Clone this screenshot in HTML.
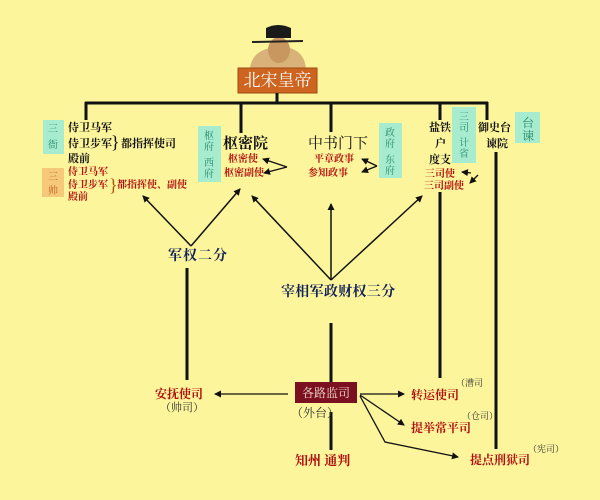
<!DOCTYPE html>
<html><head><meta charset="utf-8"><style>
html,body{margin:0;padding:0;background:#fcf59c;}
svg{display:block}
text{font-family:"Liberation Serif","Noto Serif CJK SC","Noto Sans CJK SC",serif;font-weight:bold}
.k{fill:#111}
.r{fill:#b01010}
.b{fill:#12225a}
.g{fill:#2a8a6a;font-weight:normal}
</style></head><body>
<svg width="600" height="500" viewBox="0 0 600 500" xmlns="http://www.w3.org/2000/svg">
<defs>
<marker id="a" markerWidth="8" markerHeight="8" refX="6" refY="4" orient="auto" markerUnits="userSpaceOnUse">
<path d="M0,0.5 L7,4 L0,7.5 Z" fill="#111"/></marker>
</defs>
<rect width="600" height="500" fill="#fcf59c"/>
<!-- emperor figure -->
<path d="M250,68 Q252,52 270,48 L290,48 Q304,52 306,68 Z" fill="#d9b27a"/>
<ellipse cx="279" cy="50" rx="11" ry="13" fill="#c89760"/>
<path d="M266,38 L266,28 Q278,22 291,28 L291,38 Z" fill="#1a1a1a"/>
<line x1="252" y1="42" x2="303" y2="41" stroke="#222" stroke-width="2"/>
<!-- emperor box -->
<rect x="238" y="68" width="79" height="25" fill="#cd6420" stroke="#a04a10"/>
<text x="277.5" y="86" text-anchor="middle" font-size="17" fill="#fff" style="font-weight:normal">北宋皇帝</text>
<!-- top tree -->
<g stroke="#111" stroke-width="3" fill="none">
<line x1="277" y1="93" x2="277" y2="103"/>
<line x1="85" y1="103" x2="488" y2="103"/>
<line x1="86" y1="102" x2="86" y2="120"/>
<line x1="241" y1="102" x2="241" y2="133"/>
<line x1="331" y1="102" x2="331" y2="132"/>
<line x1="440" y1="102" x2="440" y2="120"/>
<line x1="487" y1="102" x2="487" y2="120"/>
<line x1="496" y1="152" x2="496" y2="449"/>
<line x1="440" y1="192" x2="440" y2="378"/>
<line x1="187" y1="268" x2="187" y2="380"/>
<line x1="331" y1="323" x2="331" y2="382"/>
<line x1="331" y1="412" x2="331" y2="450"/>
</g>
<!-- cyan boxes -->
<g fill="#a8ecd0">
<rect x="43" y="120" width="21" height="34"/>
<rect x="198" y="126" width="23" height="56"/>
<rect x="379" y="123" width="23" height="55"/>
<rect x="452" y="107" width="24" height="56"/>
<rect x="515" y="112" width="25" height="31"/>
</g>
<rect x="42" y="168" width="22" height="29" fill="#f6c97a"/>
<!-- cyan labels -->
<text class="g" font-size="10"><tspan x="48" y="132">三</tspan><tspan x="48" y="148">衙</tspan></text>
<text font-size="10" fill="#c06020" style="font-weight:normal"><tspan x="48" y="180">三</tspan><tspan x="48" y="194">帅</tspan></text>
<text class="g" font-size="10"><tspan x="204" y="139">枢</tspan><tspan x="204" y="150">府</tspan><tspan x="204" y="166">西</tspan><tspan x="204" y="177">府</tspan></text>
<text class="g" font-size="10"><tspan x="385" y="136">政</tspan><tspan x="385" y="147">府</tspan><tspan x="385" y="163">东</tspan><tspan x="385" y="174">府</tspan></text>
<text class="g" font-size="10"><tspan x="459" y="120">三</tspan><tspan x="459" y="131">司</tspan><tspan x="459" y="146">计</tspan><tspan x="459" y="157">省</tspan></text>
<text class="g" font-size="12"><tspan x="522" y="127">台</tspan><tspan x="522" y="140">谏</tspan></text>
<!-- left block -->
<text class="k" font-size="11"><tspan x="68" y="131">侍卫马军</tspan><tspan x="68" y="147">侍卫步军</tspan><tspan x="68" y="162">殿前</tspan></text>
<text x="111" y="148" font-size="18" class="k" style="font-weight:normal">}</text>
<text x="121" y="147" font-size="11" class="k">都指挥使司</text>
<text class="r" font-size="10"><tspan x="68" y="175">侍卫马军</tspan><tspan x="68" y="188">侍卫步军</tspan><tspan x="68" y="200">殿前</tspan></text>
<text x="109" y="191" font-size="18" fill="#b05010" style="font-weight:normal">}</text>
<text x="117" y="188" font-size="10" class="r">都指挥使、副使</text>
<!-- 枢密院 -->
<text x="223" y="148" font-size="15" class="k">枢密院</text>
<text class="r" font-size="10"><tspan x="228" y="162">枢密使</tspan><tspan x="224" y="176">枢密副使</tspan></text>
<g stroke="#111" stroke-width="1.3" fill="none">
<line x1="287" y1="167" x2="263" y2="159" marker-end="url(#a)"/>
<line x1="287" y1="167" x2="264" y2="173" marker-end="url(#a)"/>
<line x1="377" y1="166" x2="362" y2="159" marker-end="url(#a)"/>
<line x1="377" y1="166" x2="362" y2="172" marker-end="url(#a)"/>
<line x1="471" y1="173" x2="462" y2="172" marker-end="url(#a)"/>
<line x1="478" y1="175" x2="470" y2="183" marker-end="url(#a)"/>
</g>
<!-- 中书门下 -->
<text x="308" y="148" font-size="15" class="k" style="font-weight:normal">中书门下</text>
<text class="r" font-size="10"><tspan x="314" y="162">平章政事</tspan><tspan x="308" y="176">参知政事</tspan></text>
<!-- 三司 -->
<text class="k" font-size="11"><tspan x="429" y="131">盐铁</tspan><tspan x="435" y="147">户</tspan><tspan x="429" y="163">度支</tspan></text>
<text class="r" font-size="10"><tspan x="425" y="177">三司使</tspan><tspan x="424" y="189">三司副使</tspan></text>
<text class="k" font-size="11"><tspan x="478" y="131">御史台</tspan><tspan x="486" y="147">谏院</tspan></text>
<!-- arrows middle -->
<g stroke="#111" stroke-width="1.5" fill="none">
<line x1="191" y1="246" x2="143" y2="196" marker-end="url(#a)"/>
<line x1="191" y1="246" x2="240" y2="189" marker-end="url(#a)"/>
<line x1="331" y1="280" x2="252" y2="196" marker-end="url(#a)"/>
<line x1="331" y1="280" x2="331" y2="204" marker-end="url(#a)"/>
<line x1="331" y1="280" x2="422" y2="196" marker-end="url(#a)"/>
</g>
<text x="168" y="260" font-size="14" class="b" letter-spacing="1">军权二分</text>
<text x="281" y="296" font-size="14" class="b" letter-spacing="0.3">宰相军政财权三分</text>
<!-- bottom -->
<rect x="295" y="382" width="62" height="21" fill="#7a1020"/>
<text x="326" y="397" text-anchor="middle" font-size="12" fill="#f4e0d0" style="font-weight:normal">各路监司</text>
<text x="291" y="417" font-size="12" fill="#333" style="font-weight:normal">（外台）</text>
<text x="295" y="465" font-size="13" class="r">知州 通判</text>
<text x="155" y="398" font-size="12" class="r">安抚使司</text>
<text x="160" y="411" font-size="11" fill="#333" style="font-weight:normal">（帅司）</text>
<text x="411" y="399" font-size="12" class="r">转运使司</text>
<text x="456" y="386" font-size="9" fill="#333" style="font-weight:normal">（漕司</text>
<text x="411" y="432" font-size="12" class="r">提举常平司</text>
<text x="462" y="419" font-size="9" fill="#333" style="font-weight:normal">（仓司）</text>
<text x="470" y="464" font-size="12" class="r">提点刑狱司</text>
<text x="528" y="452" font-size="9" fill="#333" style="font-weight:normal">（宪司）</text>
<g stroke="#111" stroke-width="1.3" fill="none">
<line x1="288" y1="394" x2="215" y2="394" marker-end="url(#a)"/>
<line x1="360" y1="394" x2="404" y2="394" marker-end="url(#a)"/>
<line x1="360" y1="395" x2="404" y2="425" marker-end="url(#a)"/>
<polyline points="360,396 385,442 458,457" marker-end="url(#a)"/>
</g>
</svg>
</body></html>
